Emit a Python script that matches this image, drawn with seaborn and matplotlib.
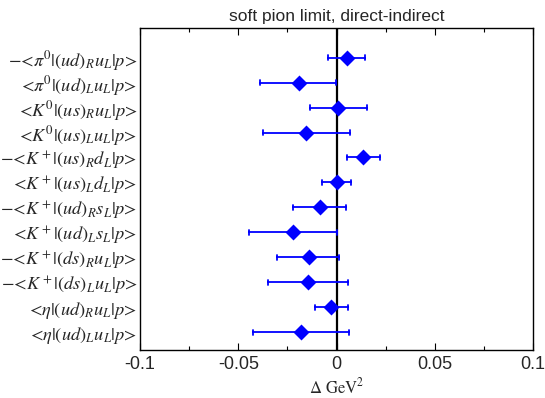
import numpy as np
import pandas as pd
import matplotlib
matplotlib.use("Agg")
import matplotlib.pyplot as plt
import seaborn as sns
from matplotlib.ticker import MultipleLocator

labels = [
    r"−<$\pi^0$|$(ud)_R u_L$|$p$>",
    r"<$\pi^0$|$(ud)_L u_L$|$p$>",
    r"<$K^0$|$(us)_R u_L$|$p$>",
    r"<$K^0$|$(us)_L u_L$|$p$>",
    r"−<$K^+$|$(us)_R d_L$|$p$>",
    r"<$K^+$|$(us)_L d_L$|$p$>",
    r"−<$K^+$|$(ud)_R s_L$|$p$>",
    r"<$K^+$|$(ud)_L s_L$|$p$>",
    r"−<$K^+$|$(ds)_R u_L$|$p$>",
    r"−<$K^+$|$(ds)_L u_L$|$p$>",
    r"<$\eta$|$(ud)_R u_L$|$p$>",
    r"<$\eta$|$(ud)_L u_L$|$p$>",
]
center = [0.0051, -0.0193, 0.0008, -0.0153, 0.0137, 0.0002,
          -0.0085, -0.0219, -0.0142, -0.0146, -0.0027, -0.0180]
lower = [-0.0043, -0.0388, -0.0136, -0.0373, 0.0052, -0.0076,
         -0.0222, -0.0444, -0.0302, -0.0348, -0.0110, -0.0426]
upper = [0.0144, -0.0004, 0.0156, 0.0069, 0.0220, 0.0076,
         0.0049, 0.0005, 0.0013, 0.0056, 0.0059, 0.0066]

rows = []
for lab, c, lo, hi in zip(labels, center, lower, upper):
    for v in (lo, c, hi):
        rows.append({"label": lab, "value": v})
df = pd.DataFrame(rows)

sns.set_style("white")
plt.rcParams["mathtext.fontset"] = "stix"
plt.rcParams["font.family"] = ["Liberation Sans", "DejaVu Sans"]

fig = plt.figure(figsize=(5.45, 3.98), dpi=100)
ax = fig.add_axes([0.2569, 0.1206, 0.978 - 0.2569, 0.9296 - 0.1206])

ax.axvline(0, color="black", lw=1.6, zorder=1)
sns.pointplot(data=df, x="value", y="label", order=labels,
              estimator=np.median, errorbar=lambda v: (v.min(), v.max()),
              color="#0000ff", markers="D", linestyles="none",
              capsize=0.2, err_kws={"linewidth": 1.3},
              markersize=6.5, ax=ax, zorder=3)

ax.set_xlim(-0.1, 0.1)
ax.set_ylim(11.72, -1.19)
ax.xaxis.set_minor_locator(MultipleLocator(0.025))
ax.set_xticks([-0.1, -0.05, 0, 0.05, 0.1])
ax.set_xticklabels(["-0.1", "-0.05", "0", "0.05", "0.1"], fontsize=13)
ax.tick_params(axis="x", which="major", direction="in", length=5, width=0.8,
               top=True, bottom=True, color="black", pad=4)
ax.tick_params(axis="x", which="minor", direction="in", length=3, width=0.8,
               top=True, bottom=True, color="black")
ax.tick_params(axis="y", length=0, labelsize=13.2, pad=2)
for t in ax.get_yticklabels():
    t.set_fontfamily("STIXGeneral")
ax.set_ylabel("")
ax.set_xlabel(r"$\Delta\ \mathrm{GeV}^2$", fontsize=12, labelpad=3)
ax.set_title("soft pion limit, direct-indirect", fontsize=12.5, pad=5)
for s in ax.spines.values():
    s.set_color("black")
    s.set_linewidth(1.0)
    s.set_visible(True)

fig.savefig("out.png", dpi=100)
